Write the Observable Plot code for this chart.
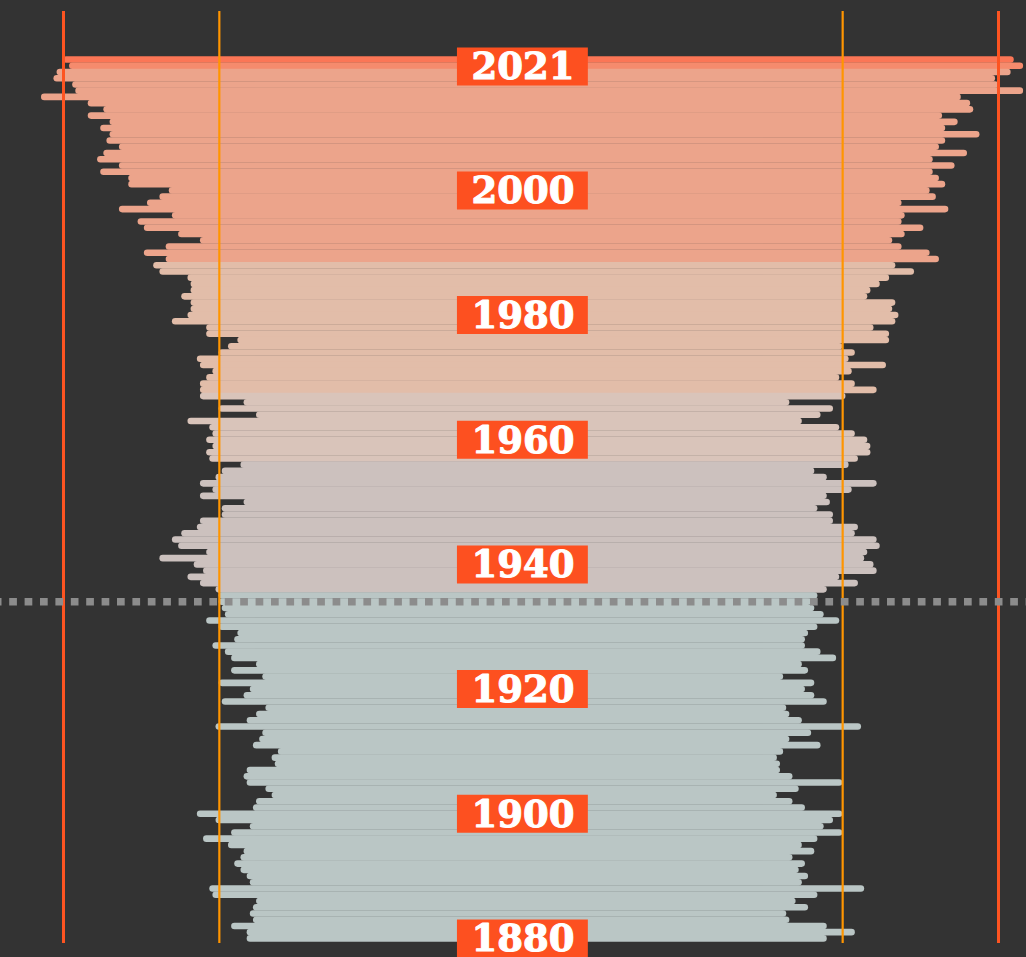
<!DOCTYPE html>
<html>
<head>
<meta charset="utf-8">
<script src="https://cdn.jsdelivr.net/npm/d3@7"></script>
<script src="https://cdn.jsdelivr.net/npm/@observablehq/plot@0.6"></script>
<style>
  html, body { margin: 0; padding: 0; background: #333333; }
  #chart svg { display: block; }
</style>
</head>
<body>
<div id="chart"></div>
<script>
// Years, newest first (drawing order: older bars are painted over newer ones)
const years = d3.range(2021, 1879, -1);

// Left end of each year's bar (2021 -> 1880)
const lowEnds = [
  -1.49, -1.47, -1.51, -1.52, -1.46, -1.45, -1.56, -1.41, -1.36, -1.41,
  -1.34, -1.37, -1.34, -1.35, -1.31, -1.36, -1.38, -1.31, -1.37, -1.28,
  -1.28, -1.15, -1.18, -1.22, -1.31, -1.14, -1.25, -1.23, -1.12, -1.05,
  -1.16, -1.23, -1.16, -1.20, -1.18, -1.09, -1.08, -1.08, -1.11, -1.08,
  -1.08, -1.09, -1.14, -1.03, -1.03, -0.93, -0.96, -0.99, -1.06, -1.05,
  -1.01, -1.03, -1.05, -1.05, -1.05, -0.91, -0.99, -0.87, -1.09, -1.02,
  -1.01, -1.03, -1.01, -1.03, -1.02, -0.92, -0.98, -1.00, -1.05, -1.01,
  -1.05, -0.91, -0.98, -0.98, -1.05, -1.06, -1.11, -1.14, -1.12, -1.03,
  -1.18, -1.07, -1.04, -1.09, -1.05, -1.00, -0.99, -0.99, -0.98, -0.97,
  -1.03, -0.99, -0.93, -0.94, -1.01, -0.97, -0.95, -0.87, -0.95, -0.85,
  -0.99, -0.89, -0.91, -0.98, -0.84, -0.87, -0.90, -1.00, -0.85, -0.86,
  -0.88, -0.80, -0.82, -0.81, -0.90, -0.91, -0.90, -0.84, -0.82, -0.87,
  -0.88, -1.06, -1.00, -0.89, -0.95, -1.04, -0.96, -0.91, -0.92, -0.94,
  -0.92, -0.90, -0.89, -1.02, -1.01, -0.87, -0.88, -0.89, -0.88, -0.95,
  -0.90, -0.90
];

// Right end of each year's bar (2021 -> 1880)
const highEnds = [
  1.54, 1.57, 1.53, 1.48, 1.49, 1.57, 1.37, 1.40, 1.41, 1.31,
  1.36, 1.32, 1.43, 1.32, 1.30, 1.39, 1.28, 1.35, 1.28, 1.30,
  1.32, 1.27, 1.29, 1.18, 1.33, 1.19, 1.18, 1.25, 1.19, 1.15,
  1.18, 1.27, 1.30, 1.16, 1.22, 1.14, 1.11, 1.08, 1.07, 1.16,
  1.15, 1.17, 1.16, 1.09, 1.14, 1.14, 0.99, 1.03, 1.01, 1.13,
  1.02, 0.98, 1.03, 1.10, 1.00, 0.82, 0.96, 0.92, 0.86, 0.98,
  1.03, 1.07, 1.08, 1.08, 1.04, 1.01, 0.90, 0.94, 1.10, 1.02,
  0.94, 0.95, 0.91, 0.96, 0.96, 1.04, 1.03, 1.10, 1.11, 1.07,
  1.06, 1.09, 1.10, 0.98, 1.04, 0.94, 0.91, 0.89, 0.90, 0.93,
  0.98, 0.91, 0.88, 0.87, 0.87, 0.92, 0.97, 0.86, 0.88, 0.80,
  0.90, 0.87, 0.90, 0.94, 0.81, 0.82, 0.86, 1.05, 0.89, 0.82,
  0.92, 0.80, 0.78, 0.79, 0.79, 0.83, 0.99, 0.85, 0.78, 0.83,
  0.87, 0.99, 0.96, 0.93, 0.99, 0.91, 0.86, 0.90, 0.83, 0.87,
  0.85, 0.88, 0.86, 1.06, 0.91, 0.84, 0.88, 0.81, 0.82, 0.94,
  1.03, 0.94
];

// Year labels
const labelYears = [2021, 2000, 1980, 1960, 1940, 1920, 1900, 1880];

// Reference lines
const outerLines = [-1.5, 1.5];
const innerLines = [-1, 1];
const dividerYear = 1934;

// Colour eras (threshold breaks by year)
const eraBreaks = [1936, 1957, 1968, 1989, 2020, 2021];
const eraColors = ["#bac6c5", "#ccc1be", "#d9c4ba", "#e2bda9", "#eca48b", "#f58b6d", "#fb7656"];

const rows = years.map((year, i) => ({year, low: lowEnds[i], high: highEnds[i]}));

const labelText = {
  x: -0.026, y: d => d, text: d => String(d),
  fill: "white", stroke: "white", strokeWidth: 1.1, paintOrder: "stroke",
  fontSize: 37, fontWeight: "bold",
  fontFamily: "DejaVu Serif", textAnchor: "middle", lineAnchor: "middle"
};

const chart = Plot.plot({
  width: 1026,
  height: 957,
  marginTop: 11,
  marginBottom: 14,
  marginLeft: 0,
  marginRight: 0,
  style: {background: "#333333"},
  x: {domain: [-1.5, 1.5], range: [63, 998], axis: null},
  y: {domain: [1880, 2021], range: [937.9, 59], axis: null},
  color: {type: "threshold", domain: eraBreaks, range: eraColors},
  marks: [
    Plot.ruleY(rows, {
      y: "year", x1: "low", x2: "high", stroke: "year",
      strokeWidth: 6.6, strokeLinecap: "round"
    }),
    Plot.ruleX(innerLines, {stroke: "#ff9500", strokeWidth: 2.2}),
    Plot.ruleX(outerLines, {stroke: "#fd5421", strokeWidth: 3}),
    Plot.ruleY([dividerYear], {
      stroke: "#8c8c8c", strokeWidth: 7.5,
      strokeDasharray: "7.7,7.7", strokeDashoffset: 6.2
    }),
    Plot.ruleY(labelYears.filter(d => d !== 2021), {
      y: d => d, x1: -0.236, x2: 0.184, stroke: "#fd5020", strokeWidth: 38
    }),
    Plot.ruleY(labelYears.filter(d => d === 2021), {
      y: d => d, x1: -0.236, x2: 0.184, stroke: "#fd5020", strokeWidth: 38, dy: 7
    }),
    Plot.text(labelYears.filter(d => d !== 2021), {...labelText, dy: 1}),
    Plot.text(labelYears.filter(d => d === 2021), {...labelText, dy: 8})
  ]
});

document.getElementById("chart").appendChild(chart);
</script>
</body>
</html>
